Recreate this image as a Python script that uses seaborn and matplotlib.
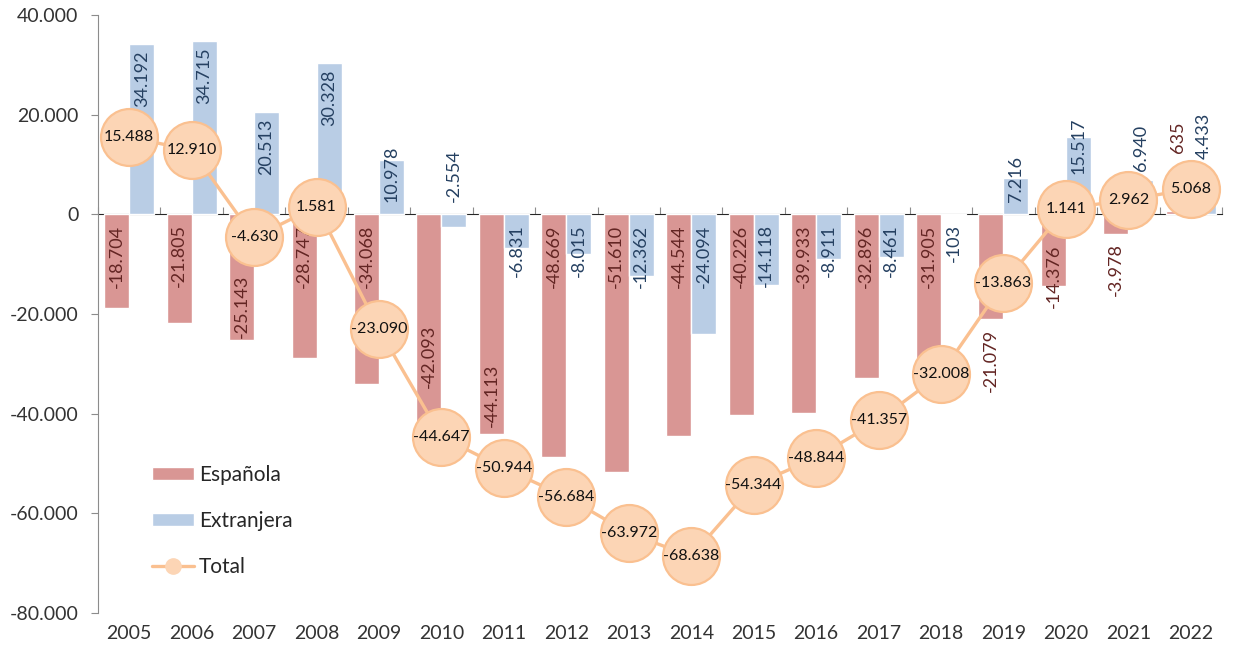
import numpy as np
import pandas as pd
import matplotlib
matplotlib.use("Agg")
import matplotlib.pyplot as plt
from matplotlib.patches import Patch
from matplotlib.lines import Line2D
from matplotlib.ticker import FuncFormatter
import seaborn as sns

# Datos: saldo migratorio por nacionalidad
years = [str(y) for y in range(2005, 2023)]
espanola = [-18704, -21805, -25143, -28747, -34068, -42093, -44113, -48669, -51610,
            -44544, -40226, -39933, -32896, -31905, -21079, -14376, -3978, 635]
extranjera = [34192, 34715, 20513, 30328, 10978, -2554, -6831, -8015, -12362,
              -24094, -14118, -8911, -8461, -103, 7216, 15517, 6940, 4433]
total = [15488, 12910, -4630, 1581, -23090, -44647, -50944, -56684, -63972,
         -68638, -54344, -48844, -41357, -32008, -13863, 1141, 2962, 5068]

# colocación de etiquetas (modo + desplazamiento extra en px)
esp_modes = ['base', 'base', 'end', 'base', 'base', 'end', 'end', 'base', 'base',
             'base', 'base', 'base', 'base', 'base', 'out', 'out', 'out', 'up']
esp_shift = {'2010': 34, '2011': 5, '2020': 50, '2022': 49}
ext_modes = ['end', 'end', 'end', 'end', 'up', 'up', 'base', 'base', 'base',
             'base', 'base', 'base', 'base', 'base', 'up', 'up', 'up', 'up']
ext_shift = {'2020': 28, '2021': 31, '2022': 43}

c_esp, c_ext = '#D99694', '#B9CDE5'
c_esp_txt, c_ext_txt = '#632523', '#254061'
c_line, c_fill = '#FAC090', '#FCD5B5'
grey = '#8C8C8C'

sns.set_style('white')
plt.rcParams['font.family'] = ['Lato', 'DejaVu Sans']


def fmt(v):
    return f"{v:,}".replace(',', '.')


df = pd.DataFrame({'year': years * 2,
                   'valor': espanola + extranjera,
                   'serie': ['Española'] * len(years) + ['Extranjera'] * len(years)})

fig = plt.figure(figsize=(12.34, 6.57), dpi=100)
ax = fig.add_axes([0.0794, 0.067, 0.9109, 0.910])

sns.barplot(data=df, x='year', y='valor', hue='serie', palette=[c_esp, c_ext],
            saturation=1, width=0.8, legend=False, ax=ax, zorder=2)

ymin, ymax = -80000, 40000
ax.set_ylim(ymin, ymax)
ax.set_xlim(-0.5, len(years) - 0.5)


def label_bars(container, vals, modes, shifts, color):
    for bar, v, m, yr in zip(container, vals, modes, years):
        x = bar.get_x() + bar.get_width() / 2
        extra = shifts.get(yr, 0)
        if m == 'base':
            a, dy, va = 0, -10, 'top'
        elif m == 'end':
            a = v
            dy, va = (2, 'bottom') if v < 0 else (-6, 'top')
        elif m == 'out':
            a = v
            dy, va = (-9, 'top') if v < 0 else (6, 'bottom')
        else:  # 'up'
            a, dy, va = 0, 12, 'bottom'
        ax.annotate(fmt(v), xy=(x, a), xytext=(0, dy + extra), textcoords='offset pixels',
                    rotation=90, ha='center', va=va, color=color, fontsize=13, zorder=3)


label_bars(ax.containers[0], espanola, esp_modes, esp_shift, c_esp_txt)
label_bars(ax.containers[1], extranjera, ext_modes, ext_shift, c_ext_txt)

# línea del total
xpos = np.arange(len(years))
sns.lineplot(x=xpos, y=total, ax=ax, color=c_line, linewidth=2.4, marker='o',
             markersize=41, markerfacecolor=c_fill, markeredgecolor=c_line,
             markeredgewidth=1.6, zorder=4, legend=False)
for x, v in zip(xpos, total):
    ax.text(x, v, fmt(v), ha='center', va='center', fontsize=11.5, color='#111111', zorder=5)

# ejes
for s in ['top', 'right', 'bottom']:
    ax.spines[s].set_visible(False)
ax.spines['left'].set_color(grey)
ax.set_yticks(np.arange(ymin, ymax + 1, 20000))
ax.yaxis.set_major_formatter(FuncFormatter(lambda v, p: fmt(int(v))))
ax.tick_params(axis='y', direction='out', length=5, color=grey, labelsize=14,
               labelcolor='#333333', left=True, pad=9)
ax.tick_params(axis='x', length=0, labelsize=14, labelcolor='#333333', pad=9)
ax.set_xlabel('')
ax.set_ylabel('')

# eje de categorías en el cero
zero = ax.secondary_xaxis((0 - ymin) / (ymax - ymin))
zero.set_xticks(np.arange(-0.5, len(years), 1))
zero.set_xticklabels([])
zero.tick_params(direction='out', length=5, color=grey)
zero.spines['bottom'].set_color(grey)
zero.spines['bottom'].set_linewidth(1.2)

handles = [Patch(facecolor=c_esp, label='Española'),
           Patch(facecolor=c_ext, label='Extranjera'),
           Line2D([], [], color=c_line, lw=2.4, marker='o', markersize=11,
                  markerfacecolor=c_fill, markeredgecolor=c_fill, label='Total')]
ax.legend(handles=handles, loc='upper left', bbox_to_anchor=(0.048, 0.248),
          frameon=False, fontsize=15, labelspacing=1.25, handlelength=2.0,
          handleheight=0.6, handletextpad=0.25, borderpad=0, borderaxespad=0)

fig.savefig('out.png', dpi=100)
